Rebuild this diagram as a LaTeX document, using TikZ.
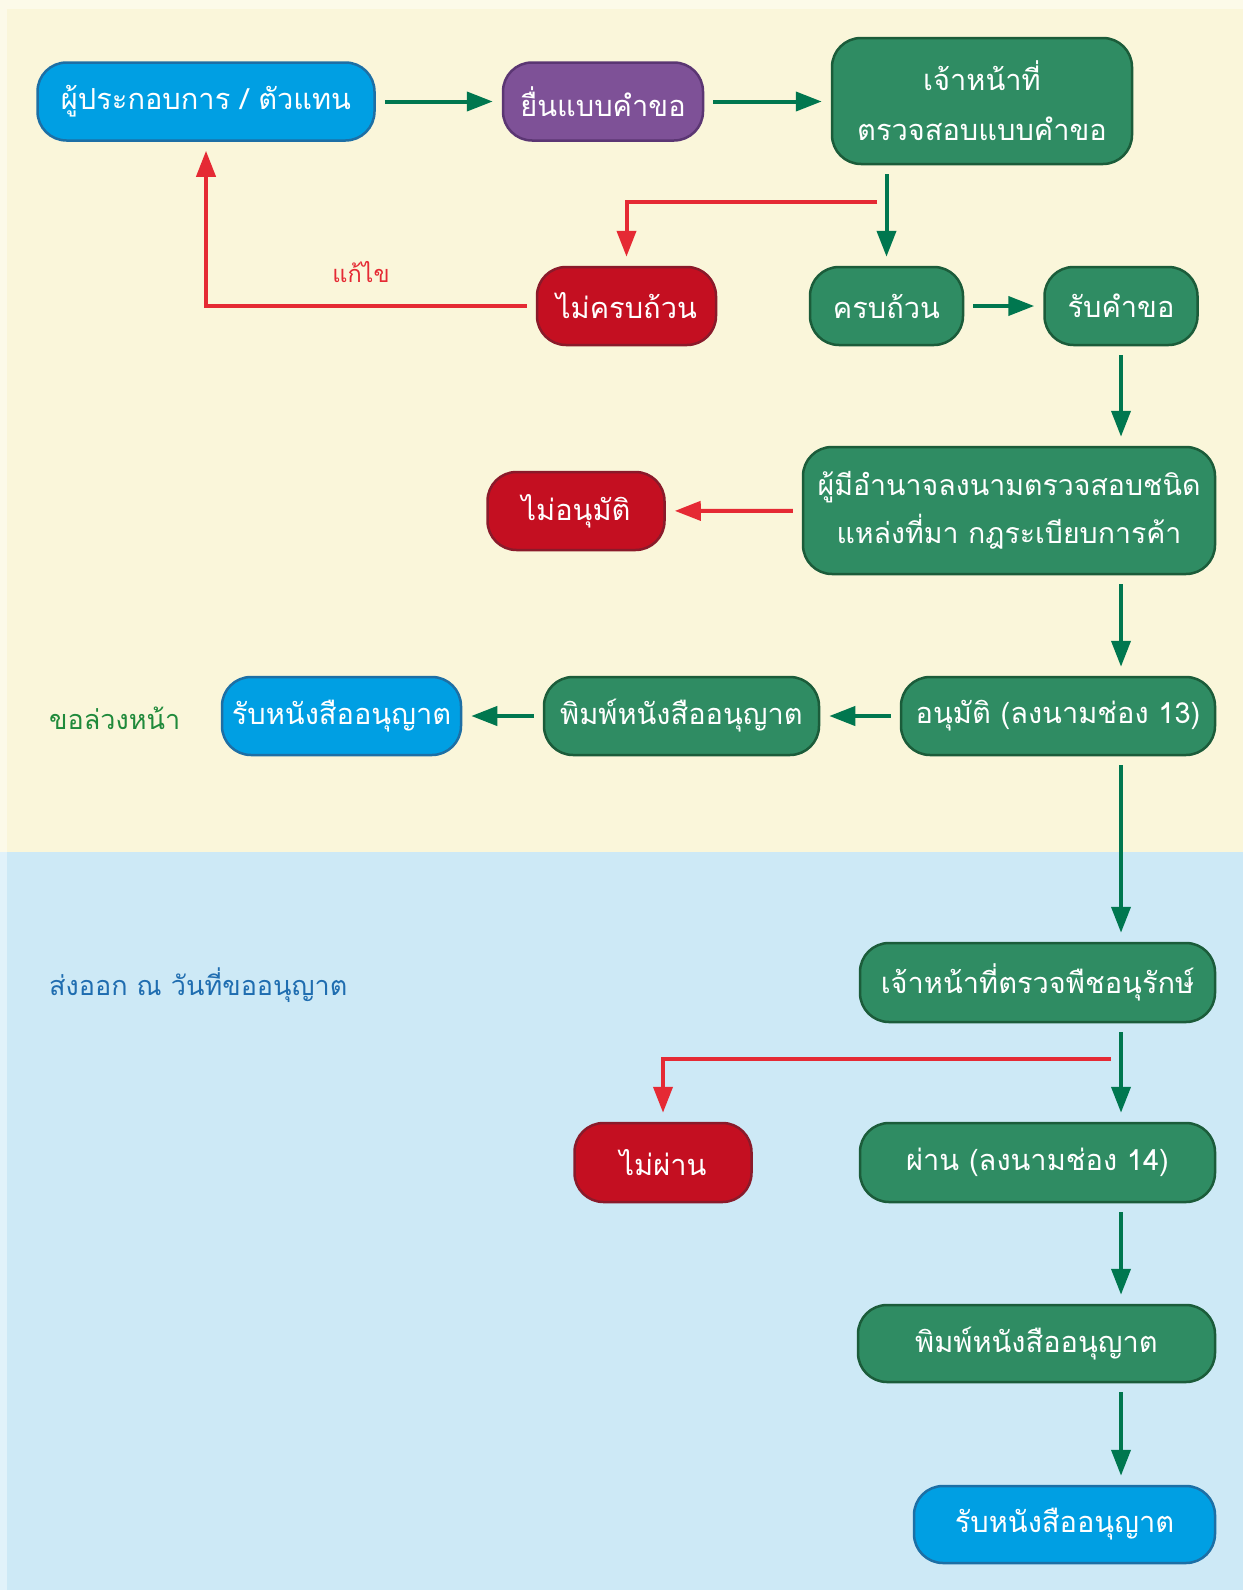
\documentclass[tikz,border=0pt]{standalone}
\usepackage{fontspec}
\newfontfamily\thaifont[Script=Thai]{Loma}
\usetikzlibrary{arrows.meta}

\definecolor{paleyellow}{HTML}{FAF6DA}
\definecolor{paleblue}{HTML}{CDE9F6}
\definecolor{boxgreen}{HTML}{2F8C63}
\definecolor{edgegreen}{HTML}{1B5C3A}
\definecolor{boxblue}{HTML}{009FE3}
\definecolor{edgeblue}{HTML}{1D6FA5}
\definecolor{boxpurple}{HTML}{7E5197}
\definecolor{edgepurple}{HTML}{5B3673}
\definecolor{boxred}{HTML}{C40F21}
\definecolor{edgered}{HTML}{8A1A2A}
\definecolor{arrowgreen}{HTML}{00774F}
\definecolor{arrowred}{HTML}{E52A34}
\definecolor{labelgreen}{HTML}{1F8A3B}
\definecolor{labelblue}{HTML}{1F6DB0}

\tikzstyle{box} = [rectangle, rounded corners=29pt, line width=2.5pt, text=white, align=center, inner sep=0pt, minimum height=78pt, font=\thaifont\fontsize{29}{50}\selectfont]
\tikzstyle{greenbox} = [box, fill=boxgreen, draw=edgegreen]
\tikzstyle{bluebox} = [box, fill=boxblue, draw=edgeblue]
\tikzstyle{purplebox} = [box, fill=boxpurple, draw=edgepurple]
\tikzstyle{redbox} = [box, fill=boxred, draw=edgered]
\tikzstyle{yes} = [draw=arrowgreen, line width=4pt, -{Triangle[length=26pt,width=19pt]}, shorten <=9pt, shorten >=9pt]
\tikzstyle{no} = [draw=arrowred, line width=4pt, -{Triangle[length=26pt,width=19pt]}, shorten <=9pt, shorten >=9pt]
\tikzstyle{note} = [font=\thaifont\fontsize{27}{30}\selectfont, inner sep=0pt]

\begin{document}
\begin{tikzpicture}[x=1pt, y=-1pt]
	\useasboundingbox (0,0) rectangle (1243,1590);
	\fill[paleyellow!60!white] (0,0) rectangle (1243,852);
	\fill[paleblue!60!white] (0,852) rectangle (1243,1590);
	\fill[paleyellow] (7,9) rectangle (1243,852);
	\fill[paleblue] (7,852) rectangle (1243,1590);

	\node[bluebox, minimum width=337pt] (applicant) at (206,101.5) {ผู้ประกอบการ / ตัวแทน};
	\node[purplebox, minimum width=200pt] (submit) at (603,101.5) {ยื่นแบบคำขอ};
	\node[greenbox, minimum width=300pt, minimum height=126pt] (check) at (982,101) {เจ้าหน้าที่\\ตรวจสอบแบบคำขอ};
	\node[redbox, minimum width=179pt] (incomplete) at (626.5,306) {ไม่ครบถ้วน};
	\node[greenbox, minimum width=153pt] (complete) at (886.5,306) {ครบถ้วน};
	\node[greenbox, minimum width=153pt] (receive) at (1121,306) {รับคำขอ};
	\node[greenbox, minimum width=412pt, minimum height=127pt, font=\thaifont\fontsize{28.5}{48}\selectfont] (authority) at (1009,510.5) {ผู้มีอำนาจลงนามตรวจสอบชนิด\\แหล่งที่มา กฎระเบียบการค้า};
	\node[redbox, minimum width=177pt] (rejected) at (576,511) {ไม่อนุมัติ};
	\node[greenbox, minimum width=314pt] (approved) at (1058,716) {อนุมัติ (ลงนามช่อง 13)};
	\node[greenbox, minimum width=275pt] (print) at (681.5,716) {พิมพ์หนังสืออนุญาต};
	\node[bluebox, minimum width=239pt] (license) at (341.5,716) {รับหนังสืออนุญาต};
	\node[greenbox, minimum width=355pt, minimum height=79pt] (inspector) at (1037.5,982.5) {เจ้าหน้าที่ตรวจพืชอนุรักษ์};
	\node[redbox, minimum width=177pt, minimum height=79pt] (failed) at (663,1162.5) {ไม่ผ่าน};
	\node[greenbox, minimum width=355pt, minimum height=79pt] (passed) at (1037.5,1162.5) {ผ่าน (ลงนามช่อง 14)};
	\node[greenbox, minimum width=357pt, minimum height=77pt] (print2) at (1036.5,1343.5) {พิมพ์หนังสืออนุญาต};
	\node[bluebox, minimum width=301pt, minimum height=77pt] (license2) at (1064.5,1524.5) {รับหนังสืออนุญาต};

	\node[note, text=labelgreen, anchor=west] (advance) at (49,718) {ขอล่วงหน้า};
	\node[note, text=labelblue, anchor=west] (export) at (49,985) {ส่งออก ณ วันที่ขออนุญาต};
	\node[note, text=arrowred, font=\thaifont\fontsize{23.5}{26}\selectfont] (fix) at (361,272) {แก้ไข};

	\coordinate (split1) at (877,202);
	\coordinate (split2) at (1111,1059);

	\draw[yes] (applicant) -- (submit);
	\draw[yes] (submit) -- (check.west |- submit);
	\draw[yes] (check.south -| complete) -- (complete);
	\draw[no, shorten <=0pt] (split1) -| (incomplete);
	\draw[no] (incomplete) -| (applicant);
	\draw[yes] (complete) -- (receive);
	\draw[yes] (receive) -- (receive |- authority.north);
	\draw[no] (authority) -- (rejected);
	\draw[yes] (authority.south -| receive) -- (approved.north -| receive);
	\draw[yes] (approved) -- (print);
	\draw[yes] (print) -- (license);
	\draw[yes] (approved.south -| receive) -- (inspector.north -| receive);
	\draw[yes] (inspector.south -| receive) -- (passed.north -| receive);
	\draw[no, shorten <=0pt] (split2) -| (failed);
	\draw[yes] (passed.south -| receive) -- (print2.north -| receive);
	\draw[yes] (print2.south -| receive) -- (license2.north -| receive);
\end{tikzpicture}
\end{document}
